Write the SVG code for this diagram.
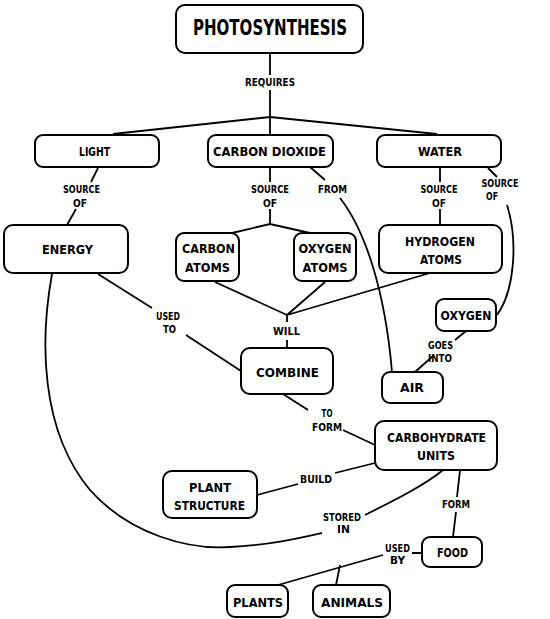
<svg xmlns="http://www.w3.org/2000/svg" width="550" height="619" viewBox="0 0 550 619">
<style>
.box{fill:#fff;stroke:#000;stroke-width:2}
.n{font-family:"DejaVu Sans","Liberation Sans",sans-serif;font-weight:bold;font-size:13px;text-anchor:middle;fill:#000}
.t{font-family:"DejaVu Sans","Liberation Sans",sans-serif;font-weight:bold;font-size:21px;text-anchor:middle;fill:#000}
.l{font-family:"DejaVu Sans","Liberation Sans",sans-serif;font-weight:bold;font-size:10.5px;text-anchor:middle;fill:#000}
.c{fill:none;stroke:#000;stroke-width:1.8}
</style>
<rect width="550" height="619" fill="#fff"/>
<g id="connectors">
<path class="c" d="M270,53 V75 M270,90 V135"/>
<path class="c" d="M113,134 L270,117 L437,134"/>
<path class="c" d="M98,168 L91,182 M76,209 L67,225"/>
<path class="c" d="M270,167 V182 M270,209 V224 M232,233 L270,224 L310,233"/>
<path class="c" d="M440,167 V182 M440,209 V225"/>
<path class="c" d="M488,168 L497,177 M507,205 C518,240 515,290 497,315"/>
<path class="c" d="M310,167 L325,180 M340,198 C365,230 385,290 392,372"/>
<path class="c" d="M215,282 L287,315 M325,282 L287,315 M430,273 L287,315 M287,315 V322 M287,340 V348"/>
<path class="c" d="M98,274 L152,308 M186,335 L241,371"/>
<path class="c" d="M466,331 L455,340 M433,356 L415,372"/>
<path class="c" d="M52,274 C40,340 40,430 90,490 C130,535 190,550 230,547 C270,545 300,538 322,533 M365,515 C395,500 425,485 443,470"/>
<path class="c" d="M283,394 L308,410 M343,430 L375,445"/>
<path class="c" d="M375,463 L335,473 M298,484 L257,495"/>
<path class="c" d="M460,470 L457,497 M456,512 L453,537"/>
<path class="c" d="M422,553 L412,553 M383,555 L278,585 M340,565 L336,585"/>
</g>
<g id="labels">
<text class="l" x="270" y="86" textLength="50" lengthAdjust="spacingAndGlyphs">REQUIRES</text>
<text class="l" x="81.5" y="193" textLength="37" lengthAdjust="spacingAndGlyphs">SOURCE</text>
<text class="l" x="80" y="207" textLength="14" lengthAdjust="spacingAndGlyphs">OF</text>
<text class="l" x="270" y="193" textLength="38" lengthAdjust="spacingAndGlyphs">SOURCE</text>
<text class="l" x="270" y="207" textLength="14" lengthAdjust="spacingAndGlyphs">OF</text>
<text class="l" x="332.5" y="193" textLength="29" lengthAdjust="spacingAndGlyphs">FROM</text>
<text class="l" x="439" y="193" textLength="37" lengthAdjust="spacingAndGlyphs">SOURCE</text>
<text class="l" x="439" y="207" textLength="14" lengthAdjust="spacingAndGlyphs">OF</text>
<text class="l" x="500" y="187" textLength="37" lengthAdjust="spacingAndGlyphs">SOURCE</text>
<text class="l" x="492" y="200" textLength="12" lengthAdjust="spacingAndGlyphs">OF</text>
<text class="l" x="168" y="320" textLength="24" lengthAdjust="spacingAndGlyphs">USED</text>
<text class="l" x="169.5" y="333" textLength="13" lengthAdjust="spacingAndGlyphs">TO</text>
<text class="l" x="286.5" y="335" textLength="27" lengthAdjust="spacingAndGlyphs">WILL</text>
<text class="l" x="440.5" y="349" textLength="25" lengthAdjust="spacingAndGlyphs">GOES</text>
<text class="l" x="440" y="362" textLength="24" lengthAdjust="spacingAndGlyphs">INTO</text>
<text class="l" x="327" y="417" textLength="11" lengthAdjust="spacingAndGlyphs">TO</text>
<text class="l" x="327" y="431" textLength="30" lengthAdjust="spacingAndGlyphs">FORM</text>
<text class="l" x="316" y="483" textLength="32" lengthAdjust="spacingAndGlyphs">BUILD</text>
<text class="l" x="456" y="508" textLength="28" lengthAdjust="spacingAndGlyphs">FORM</text>
<text class="l" x="342" y="521" textLength="38" lengthAdjust="spacingAndGlyphs">STORED</text>
<text class="l" x="343.5" y="533" textLength="13" lengthAdjust="spacingAndGlyphs">IN</text>
<text class="l" x="397.5" y="552" textLength="25" lengthAdjust="spacingAndGlyphs">USED</text>
<text class="l" x="397.5" y="564" textLength="15" lengthAdjust="spacingAndGlyphs">BY</text>
</g>
<g id="photosynthesis"><rect class="box" x="176" y="5" width="187" height="48" rx="9"/><text class="t" x="270" y="35" textLength="154" lengthAdjust="spacingAndGlyphs">PHOTOSYNTHESIS</text></g>
<g id="light"><rect class="box" x="35" y="135" width="124" height="32" rx="8"/><text class="n" x="94.5" y="156" textLength="31" lengthAdjust="spacingAndGlyphs">LIGHT</text></g>
<g id="carbon-dioxide"><rect class="box" x="208" y="135" width="125" height="32" rx="8"/><text class="n" x="269.5" y="156" textLength="113" lengthAdjust="spacingAndGlyphs">CARBON DIOXIDE</text></g>
<g id="water"><rect class="box" x="377" y="135" width="124" height="32" rx="8"/><text class="n" x="440" y="156" textLength="44" lengthAdjust="spacingAndGlyphs">WATER</text></g>
<g id="energy"><rect class="box" x="4" y="225" width="124" height="48" rx="9"/><text class="n" x="67.5" y="254" textLength="51" lengthAdjust="spacingAndGlyphs">ENERGY</text></g>
<g id="carbon-atoms"><rect class="box" x="176" y="233" width="63" height="48" rx="8"/><text class="n" x="208.5" y="253" textLength="53" lengthAdjust="spacingAndGlyphs">CARBON</text><text class="n" x="207.5" y="272" textLength="45" lengthAdjust="spacingAndGlyphs">ATOMS</text></g>
<g id="oxygen-atoms"><rect class="box" x="294" y="233" width="62" height="48" rx="8"/><text class="n" x="325" y="253" textLength="53" lengthAdjust="spacingAndGlyphs">OXYGEN</text><text class="n" x="325" y="272" textLength="45" lengthAdjust="spacingAndGlyphs">ATOMS</text></g>
<g id="hydrogen-atoms"><rect class="box" x="379" y="225" width="123" height="48" rx="9"/><text class="n" x="440" y="246" textLength="70" lengthAdjust="spacingAndGlyphs">HYDROGEN</text><text class="n" x="441" y="264" textLength="42" lengthAdjust="spacingAndGlyphs">ATOMS</text></g>
<g id="oxygen"><rect class="box" x="436" y="299" width="60" height="32" rx="8"/><text class="n" x="466" y="320" textLength="51" lengthAdjust="spacingAndGlyphs">OXYGEN</text></g>
<g id="combine"><rect class="box" x="241" y="348" width="92" height="46" rx="9"/><text class="n" x="287.5" y="377" textLength="63" lengthAdjust="spacingAndGlyphs">COMBINE</text></g>
<g id="air"><rect class="box" x="382" y="372" width="61" height="31" rx="8"/><text class="n" x="412" y="392" textLength="24" lengthAdjust="spacingAndGlyphs">AIR</text></g>
<g id="carbohydrate-units"><rect class="box" x="375" y="421" width="122" height="49" rx="9"/><text class="n" x="436.5" y="442" textLength="99" lengthAdjust="spacingAndGlyphs">CARBOHYDRATE</text><text class="n" x="436" y="460" textLength="38" lengthAdjust="spacingAndGlyphs">UNITS</text></g>
<g id="plant-structure"><rect class="box" x="163" y="471" width="94" height="47" rx="9"/><text class="n" x="210" y="492" textLength="42" lengthAdjust="spacingAndGlyphs">PLANT</text><text class="n" x="209.5" y="510" textLength="71" lengthAdjust="spacingAndGlyphs">STRUCTURE</text></g>
<g id="food"><rect class="box" x="422" y="537" width="60" height="30" rx="8"/><text class="n" x="452.5" y="557" textLength="31" lengthAdjust="spacingAndGlyphs">FOOD</text></g>
<g id="plants"><rect class="box" x="227" y="585" width="61" height="32" rx="8"/><text class="n" x="258" y="607" textLength="50" lengthAdjust="spacingAndGlyphs">PLANTS</text></g>
<g id="animals"><rect class="box" x="313" y="585" width="77" height="32" rx="8"/><text class="n" x="352" y="607" textLength="62" lengthAdjust="spacingAndGlyphs">ANIMALS</text></g>
</svg>
